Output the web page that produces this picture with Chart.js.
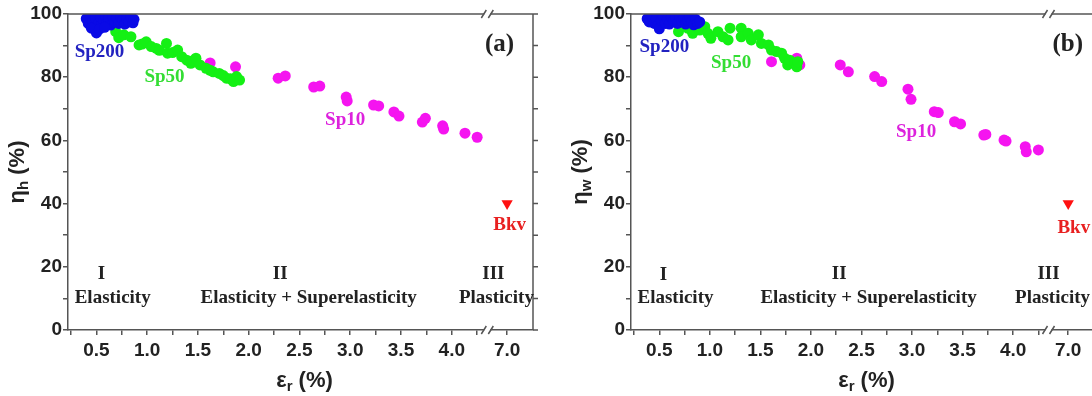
<!DOCTYPE html>
<html>
<head>
<meta charset="utf-8">
<script src="https://cdn.jsdelivr.net/npm/chart.js@4.4.1/dist/chart.umd.min.js"></script>
<style>
  html, body { margin: 0; padding: 0; background: #fff; overflow: hidden; }
  body { width: 1092px; height: 396px; position: relative; }
  #wrapA { position: absolute; left: 0; top: 0; width: 546px; height: 396px; }
  #wrapB { position: absolute; left: 546px; top: 0; width: 560px; height: 396px; }
</style>
</head>
<body>
<div id="wrapA"><canvas id="chartA" width="546" height="396"></canvas></div>
<div id="wrapB"><canvas id="chartB" width="560" height="396"></canvas></div>
<script>
// strain eps_r (%) vs efficiency eta (%), pairs of [x, y]
var sp200A = [[0.40,98.5],[0.42,97],[0.44,99],[0.46,97.5],[0.48,96],[0.49,98.8],[0.50,94],[0.52,97],
  [0.54,99],[0.55,96.5],[0.57,98],[0.59,99.3],[0.60,97],[0.62,98.5],[0.64,96.5],[0.66,99],[0.68,97.5],
  [0.70,98.8],[0.72,97],[0.74,99],[0.76,98],[0.78,96.8],[0.80,98.5],[0.82,97.5],[0.84,99],[0.86,97.2],
  [0.87,98.3],[0.45,95.5],[0.53,95.2],[0.58,95.8]];
var sp50A = [[0.69,94.4],[0.72,92.5],[0.77,93.4],[0.84,92.8],[0.92,90.2],[0.95,90.5],[0.99,91.2],[1.04,89.7],
  [1.09,89.1],[1.12,88.5],[1.19,90.7],[1.20,87.6],[1.25,87.8],[1.30,88.6],[1.34,86.5],[1.39,85.4],[1.43,84.4],
  [1.45,85.2],[1.48,86],[1.52,83.9],[1.58,82.8],[1.62,82.2],[1.65,81.7],[1.71,81.2],[1.75,80.5],[1.78,79.7],
  [1.82,79.5],[1.85,78.6],[1.88,80.2],[1.91,79.1]];
var sp10A = [[1.62,84.5],[1.87,83.3],[2.29,79.7],[2.36,80.4],[2.64,76.9],[2.70,77.2],[2.96,73.7],[2.97,72.5],
  [3.23,71.2],[3.28,70.9],[3.43,69],[3.48,67.7],[3.71,65.8],[3.74,67],[3.91,64.6],[3.92,63.6],[4.13,62.3],[4.25,61]];
var bkvA = [[7.0,40]];

var sp200B = [[0.38,98.5],[0.40,97.5],[0.43,99],[0.45,97],[0.47,98.5],[0.49,96.5],[0.50,95.3],[0.52,98],
  [0.54,99.2],[0.56,97],[0.58,98.5],[0.60,96.8],[0.62,99],[0.64,97.8],[0.66,98.8],[0.68,97],[0.70,99.2],
  [0.72,97.8],[0.74,98.6],[0.76,96.8],[0.78,98],[0.80,99],[0.82,97.5],[0.84,96.6],[0.86,98.3],[0.88,97],[0.90,97.5]];
var sp50B = [[0.70,97.1],[0.69,94.4],[0.78,95.5],[0.83,93.9],[0.90,94.9],[0.95,96],[0.98,93.9],[1.01,92.3],
  [1.08,94.4],[1.13,92.8],[1.18,91.8],[1.20,95.5],[1.31,95.5],[1.31,92.8],[1.38,93.9],[1.41,91.8],[1.48,93.4],
  [1.51,90.7],[1.58,90.2],[1.61,88.6],[1.66,88.1],[1.71,87.6],[1.74,86],[1.77,83.9],[1.79,85.4],[1.84,84.4],
  [1.86,83.3],[1.87,84.9]];
var sp10B = [[1.61,84.9],[1.86,86],[1.89,83.9],[2.29,83.9],[2.37,81.7],[2.63,80.2],[2.70,78.6],[2.96,76.2],
  [2.99,73],[3.22,69.1],[3.26,68.8],[3.42,65.9],[3.48,65.2],[3.71,61.7],[3.73,61.9],[3.91,60.1],[3.93,59.8],
  [4.12,58],[4.13,56.4],[4.25,57]];
var bkvB = [[7.0,40]];

// x tick positions (axis units) and the broken-axis mapping
var xTicks = [0.25,0.5,0.75,1.0,1.25,1.5,1.75,2.0,2.25,2.5,2.75,3.0,3.25,3.5,3.75,4.0,4.25];
var breakTick = 7.0;
var breakTickPos = 4.545;
var breakPos = 4.35;

function toAxis(x) {
  return x > 5 ? x - breakTick + breakTickPos : x;
}
function pts(arr) {
  return arr.map(function (p) { return { x: toAxis(p[0]), y: p[1] }; });
}

var SERIF = '"Liberation Serif"';
var annA = [
  ['Sp200', 0.53, 88, '#2222c0', 'bold 19px ' + SERIF],
  ['Sp50', 1.17, 80, '#33dd33', 'bold 19px ' + SERIF],
  ['Sp10', 2.95, 66.5, '#dd22dd', 'bold 19px ' + SERIF],
  ['(a)', 4.47, 90.2, '#222', 'bold 25px ' + SERIF],
  ['Bkv', 4.57, 33.2, '#e82020', 'bold 19px ' + SERIF],
  ['I', 0.55, 17.7, '#222', 'bold 19px ' + SERIF],
  ['Elasticity', 0.66, 10.1, '#222', 'bold 19px ' + SERIF],
  ['II', 2.31, 17.7, '#222', 'bold 19px ' + SERIF],
  ['Elasticity + Superelasticity', 2.59, 10.1, '#222', 'bold 19px ' + SERIF],
  ['III', 4.41, 17.7, '#222', 'bold 19px ' + SERIF],
  ['Plasticity', 4.44, 10.1, '#222', 'bold 19px ' + SERIF]
];
var annB = [
  ['Sp200', 0.55, 89.6, '#2222c0', 'bold 19px ' + SERIF],
  ['Sp50', 1.21, 84.5, '#33dd33', 'bold 19px ' + SERIF],
  ['Sp10', 3.04, 62.7, '#dd22dd', 'bold 19px ' + SERIF],
  ['(b)', 4.54, 90.2, '#222', 'bold 25px ' + SERIF],
  ['Bkv', 4.60, 32.3, '#e82020', 'bold 19px ' + SERIF],
  ['I', 0.54, 17.4, '#222', 'bold 19px ' + SERIF],
  ['Elasticity', 0.66, 10.1, '#222', 'bold 19px ' + SERIF],
  ['II', 2.28, 17.7, '#222', 'bold 19px ' + SERIF],
  ['Elasticity + Superelasticity', 2.57, 10.1, '#222', 'bold 19px ' + SERIF],
  ['III', 4.35, 17.7, '#222', 'bold 19px ' + SERIF],
  ['Plasticity', 4.39, 10.1, '#222', 'bold 19px ' + SERIF]
];

var AX = '#555';
var TXT = '#222';

var framePlugin = {
  id: 'frame',
  afterDraw: function (chart) {
    var ctx = chart.ctx, a = chart.chartArea;
    var xs = chart.scales.x, ys = chart.scales.y;
    var o = chart.options.plugins.frame;
    ctx.save();
    ctx.strokeStyle = AX;
    ctx.lineWidth = 1.5;
    ctx.beginPath();
    ctx.moveTo(a.left, a.top); ctx.lineTo(a.right, a.top); ctx.lineTo(a.right, a.bottom);
    for (var v = 0; v <= 100; v += 10) {
      var py = ys.getPixelForValue(v);
      ctx.moveTo(a.right, py); ctx.lineTo(a.right + 5, py);
    }
    ctx.stroke();

    // axis break marks
    var bx = xs.getPixelForValue(breakPos);
    [a.top, a.bottom].forEach(function (yy) {
      ctx.fillStyle = '#fff';
      ctx.fillRect(bx - 3, yy - 2, 6, 4);
      ctx.beginPath();
      ctx.moveTo(bx - 6, yy + 4); ctx.lineTo(bx - 1, yy - 4);
      ctx.moveTo(bx + 1, yy + 4); ctx.lineTo(bx + 6, yy - 4);
      ctx.stroke();
    });

    // annotations
    ctx.textAlign = 'center';
    ctx.textBaseline = 'middle';
    o.labels.forEach(function (l) {
      ctx.fillStyle = l[3];
      ctx.font = l[4];
      ctx.fillText(l[0], xs.getPixelForValue(l[1]), ys.getPixelForValue(l[2]));
    });

    // x title: eps_r (%)
    ctx.fillStyle = TXT;
    var big = 'bold 22px "Liberation Sans"', small = 'bold 15px "Liberation Sans"';
    ctx.font = big; var w1 = ctx.measureText('\u03b5').width, w3 = ctx.measureText(' (%)').width;
    ctx.font = small; var w2 = ctx.measureText('r').width;
    var cx = (a.left + a.right) / 2 + 4 - (w1 + w2 + w3) / 2, cy = 380;
    ctx.textAlign = 'left';
    ctx.textBaseline = 'alphabetic';
    ctx.font = big; ctx.fillText('\u03b5', cx, cy + 7);
    ctx.font = small; ctx.fillText('r', cx + w1, cy + 11);
    ctx.font = big; ctx.fillText(' (%)', cx + w1 + w2, cy + 7);

    // y title: eta_sub (%)
    ctx.translate(a.left - 51, (a.top + a.bottom) / 2);
    ctx.rotate(-Math.PI / 2);
    ctx.font = big; w1 = ctx.measureText('\u03b7').width;
    ctx.font = small; w2 = ctx.measureText(o.sub).width;
    var tx = -(w1 + w2 + w3) / 2;
    ctx.font = big; ctx.fillText('\u03b7', tx, 7);
    ctx.font = small; ctx.fillText(o.sub, tx + w1, 11);
    ctx.font = big; ctx.fillText(' (%)', tx + w1 + w2, 7);
    ctx.restore();
  }
};

function makePanel(id, s200, s50, s10, bkv, labels, sub, yWidth, padRight) {
  var ds = function (data, color, style) {
    return {
      data: pts(data),
      backgroundColor: color,
      borderColor: color,
      borderWidth: 0,
      pointRadius: style ? 6.5 : 5.5,
      pointHoverRadius: 5.5,
      pointStyle: style || 'circle',
      pointRotation: style ? 180 : 0,
      clip: 0
    };
  };
  new Chart(document.getElementById(id), {
    type: 'scatter',
    data: {
      datasets: [
        ds(s200, '#0a0ae6'),
        ds(s50, '#14f014'),
        ds(s10, '#f514f0'),
        ds(bkv, '#ff1010', 'triangle')
      ]
    },
    options: {
      responsive: false,
      animation: false,
      events: [],
      layout: { padding: { top: 14, right: padRight, left: 0, bottom: 0 } },
      plugins: {
        legend: { display: false },
        tooltip: { enabled: false },
        frame: { labels: labels, sub: sub }
      },
      scales: {
        x: {
          type: 'linear',
          min: 0.22,
          max: 4.8,
          afterBuildTicks: function (scale) {
            scale.ticks = xTicks.concat([breakTickPos]).map(function (v) { return { value: v }; });
          },
          afterFit: function (scale) { scale.height = 66; },
          border: { color: AX, width: 1.5 },
          grid: { drawOnChartArea: false, drawTicks: true, tickLength: 5, color: AX, lineWidth: 1.5 },
          ticks: {
            autoSkip: false,
            maxRotation: 0,
            padding: 4,
            color: TXT,
            font: { family: '"Liberation Sans"', weight: 'bold', size: 19 },
            callback: function (v) {
              if (Math.abs(v - breakTickPos) < 1e-6) return breakTick.toFixed(1);
              return Math.abs(v * 2 - Math.round(v * 2)) < 1e-6 ? v.toFixed(1) : '';
            }
          }
        },
        y: {
          min: 0,
          max: 100,
          afterFit: function (scale) { scale.width = yWidth; },
          border: { color: AX, width: 1.5 },
          grid: { drawOnChartArea: false, drawTicks: true, tickLength: 5, color: AX, lineWidth: 1.5 },
          ticks: {
            stepSize: 10,
            padding: 1,
            color: TXT,
            font: { family: '"Liberation Sans"', weight: 'bold', size: 19 },
            callback: function (v) { return v % 20 === 0 ? v : ''; }
          }
        }
      }
    },
    plugins: [framePlugin]
  });
}

makePanel('chartA', sp200A, sp50A, sp10A, bkvA, annA, 'h', 68, 13);
makePanel('chartB', sp200B, sp50B, sp10B, bkvB, annB, 'w', 85, 12);
</script>
</body>
</html>
